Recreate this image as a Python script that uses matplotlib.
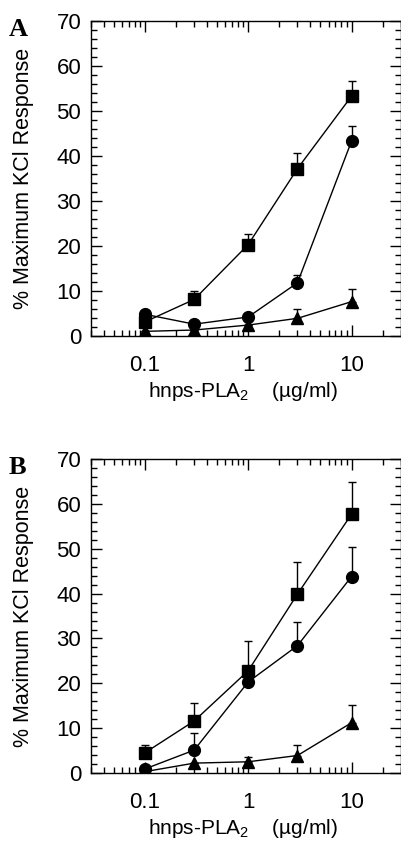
import numpy as np
import matplotlib.pyplot as plt
from matplotlib.ticker import LogLocator, MultipleLocator, FixedLocator, NullFormatter

plt.rcParams['font.family'] = ['Liberation Sans', 'DejaVu Sans']
plt.rcParams['mathtext.fontset'] = 'custom'
plt.rcParams['mathtext.rm'] = 'Liberation Sans'
plt.rcParams['mathtext.it'] = 'Liberation Sans'

# doses (µg/ml)
dose = [0.1, 0.3, 1, 3, 10]

# panel A
a_sq = [3.1, 8.1, 20.3, 37.2, 53.3]
a_sq_err = [0, 1.8, 2.4, 3.5, 3.4]
a_ci = [4.8, 2.6, 4.2, 11.8, 43.3]
a_ci_err = [0, 0, 0, 1.8, 3.4]
a_tr = [1.0, 1.3, 2.4, 3.9, 7.6]
a_tr_err = [0, 0, 0, 2.0, 2.9]

# panel B
b_sq = [4.5, 11.6, 22.8, 39.9, 57.7]
b_sq_err = [1.7, 3.9, 6.7, 7.2, 7.2]
b_ci = [0.9, 5.1, 20.3, 28.4, 43.8]
b_ci_err = [0, 3.9, 0, 5.3, 6.7]
b_tr = [0.3, 2.2, 2.5, 3.9, 11.2]
b_tr_err = [0, 0, 1.1, 2.3, 3.9]

fig = plt.figure(figsize=(4.02, 8.46), dpi=100)
axA = fig.add_axes([0.226, 0.603, 0.771, 0.372])
axB = fig.add_axes([0.226, 0.0863, 0.771, 0.371])


def panel(ax, series, letter):
    for y, err, m in series:
        ax.errorbar(dose, y, yerr=[np.zeros(len(err)), err], fmt='-', marker=m,
                    color='black', ms=8.5, lw=1, elinewidth=1,
                    capsize=3, capthick=1)
    ax.set_xscale('log')
    ax.set_xlim(0.03, 30)
    ax.set_ylim(0, 70)
    ax.xaxis.set_major_locator(FixedLocator([0.1, 1, 10]))
    ax.set_xticklabels(['0.1', '1', '10'])
    ax.xaxis.set_minor_locator(LogLocator(base=10, subs=np.arange(2, 10)))
    ax.xaxis.set_minor_formatter(NullFormatter())
    ax.yaxis.set_major_locator(MultipleLocator(10))
    ax.yaxis.set_minor_locator(MultipleLocator(2))
    ax.tick_params(which='both', direction='in', top=True, right=True,
                   labelsize=16, width=1)
    ax.tick_params(axis='y', pad=7)
    ax.tick_params(axis='x', pad=14)
    ax.tick_params(which='major', length=8)
    ax.tick_params(which='minor', length=4)
    for s in ax.spines.values():
        s.set_linewidth(1)
    ax.set_ylabel('% Maximum KCl Response', fontsize=15.5)
    ax.yaxis.set_label_coords(-0.185, 0.5)
    ax.set_xlabel('hnps-PLA$_2$    (µg/ml)', fontsize=15)
    ax.xaxis.set_label_coords(0.49, -0.14)
    ax.text(-0.265, 1.01, letter, transform=ax.transAxes, fontsize=19,
            fontweight='bold', family='Liberation Serif', va='top', ha='left')


panel(axA, [(a_sq, a_sq_err, 's'), (a_ci, a_ci_err, 'o'), (a_tr, a_tr_err, '^')], 'A')
panel(axB, [(b_sq, b_sq_err, 's'), (b_ci, b_ci_err, 'o'), (b_tr, b_tr_err, '^')], 'B')

fig.savefig('out.png', dpi=100)
